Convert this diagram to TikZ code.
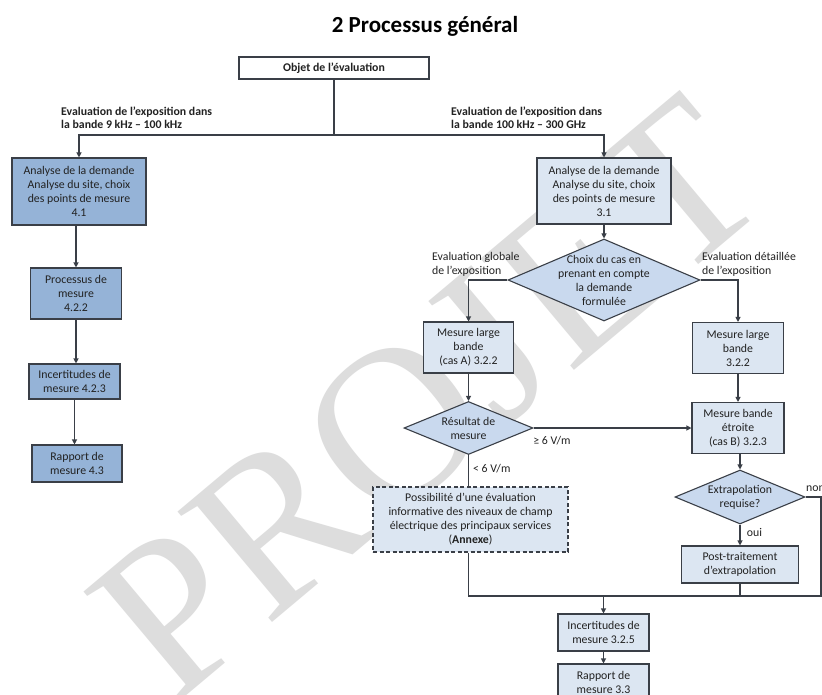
\documentclass[tikz,border=0pt]{standalone}
\usepackage{fontspec}
\setmainfont{Carlito}
\newfontfamily\wmfont{Liberation Serif}
\usetikzlibrary{arrows.meta,shapes.geometric}
\definecolor{bdark}{HTML}{95B3D7}
\definecolor{blight}{HTML}{DCE6F2}
\definecolor{bdia}{HTML}{C9D9EE}
\definecolor{edgec}{HTML}{3A3F47}
\definecolor{wm}{HTML}{DDDDDD}
\definecolor{txt}{HTML}{222222}
\begin{document}
\begin{tikzpicture}[x=1pt,y=-1pt,
  font=\fontsize{11.8}{14}\selectfont,
  box/.style={draw=edgec, line width=1.1pt, rectangle, inner sep=0pt, align=center, text=txt},
  boxA/.style={box, fill=bdark},
  boxB/.style={box, fill=blight},
  dia/.style={draw=edgec, line width=1.1pt, diamond, inner sep=0pt, fill=bdia},
  dtext/.style={inner sep=0pt, align=center, text=txt},
  lbl/.style={inner sep=0pt, text=txt, align=left},
  blbl/.style={lbl, font=\bfseries\fontsize{11.8}{12.5}\selectfont},
  wire/.style={draw=edgec, line width=1.1pt},
  arr/.style={wire, -{Triangle[length=5pt,width=5pt]}},
]
\useasboundingbox (0,0) rectangle (822,695);
\fill[white] (0,0) rectangle (822,695);
% watermark
\node[rotate=40, text=wm, font=\wmfont\fontsize{222}{222}\selectfont, inner sep=0pt] (wmark) at (428,398) {PROJET};
% title
\node[font=\bfseries\fontsize{23}{26}\selectfont, anchor=base, text=black, inner sep=0pt] (title) at (425,33) {2 Processus général};
% top
\node[box, fill=white, minimum width=190, minimum height=22, font=\bfseries\fontsize{11.8}{13}\selectfont] (obj) at (334,68) {Objet de l’évaluation};
\node[blbl, anchor=north west] (lblL) at (61,107) {Evaluation de l’exposition dans\\la bande 9 kHz – 100 kHz};
\node[blbl, anchor=north west] (lblR) at (451,107) {Evaluation de l’exposition dans\\la bande 100 kHz – 300 GHz};
% left column
\node[boxA, minimum width=134, minimum height=67] (a1) at (79,191.5) {Analyse de la demande\\Analyse du site, choix\\des points de mesure\\4.1};
\node[boxA, minimum width=91, minimum height=51] (a2) at (76,293.5) {Processus de\\mesure\\4.2.2};
\node[boxA, minimum width=91, minimum height=35] (a3) at (74.5,381.5) {Incertitudes de\\mesure 4.2.3};
\node[boxA, minimum width=90, minimum height=37] (a4) at (77,463.5) {Rapport de\\mesure 4.3};
% right column
\node[boxB, minimum width=134, minimum height=66] (b1) at (604,191) {Analyse de la demande\\Analyse du site, choix\\des points de mesure\\3.1};
\node[dia, minimum width=192, minimum height=82] (d1) at (604,280) {};
\node[dtext] (d1t) at (604,280) {Choix du cas en\\prenant en compte\\la demande\\formulée};
\node[lbl, anchor=north west] (lg) at (432,252) {Evaluation globale\\de l’exposition};
\node[lbl, anchor=north west] (ld) at (702,252) {Evaluation détaillée\\de l’exposition};
\node[boxB, minimum width=90, minimum height=51] (c1) at (468.5,347.5) {Mesure large\\bande\\(cas A) 3.2.2};
\node[boxB, minimum width=91, minimum height=51] (c2) at (738,348) {Mesure large\\bande\\3.2.2};
\node[dia, minimum width=129, minimum height=53] (d2) at (468.5,428) {};
\node[dtext] (d2t) at (468.5,428.5) {Résultat de\\mesure};
\node[boxB, minimum width=92, minimum height=51] (c3) at (738,428) {Mesure bande\\étroite\\(cas B) 3.2.3};
\node[lbl] (ge) at (552,441) {≥ 6 V/m};
\node[lbl, anchor=west] (lt) at (473,469) {< 6 V/m};
\node[dia, minimum width=130, minimum height=54] (d3) at (740,497) {};
\node[dtext] (d3t) at (740,497) {Extrapolation\\requise?};
\node[lbl, anchor=west] (non) at (806,489) {non};
\node[lbl] (oui) at (754.5,532) {oui};
\node[boxB, minimum width=117, minimum height=37] (c4) at (740,564.5) {Post-traitement\\d’extrapolation};
\node[boxB, dashed, dash pattern=on 4pt off 2.5pt, minimum width=195, minimum height=65] (e0) at (470.5,519.5) {Possibilité d’une évaluation\\informative des niveaux de champ\\électrique des principaux services\\(\textbf{Annexe})};
\node[boxB, minimum width=91, minimum height=37] (e1) at (603.5,632.5) {Incertitudes de\\mesure 3.2.5};
\node[boxB, minimum width=91, minimum height=37] (e2) at (603.5,682.5) {Rapport de\\mesure 3.3};
% connectors
\coordinate (jn) at (334,135);
\draw[wire] (obj.south) -- (jn);
\draw[arr] (jn) -| (a1.north);
\draw[arr] (jn) -| (b1.north);
\draw[arr] (a1.south -| a2.north) -- (a2.north);
\draw[arr] (a2.south) -- (a2.south |- a3.north);
\draw[arr] (a3.south) -- (a3.south |- a4.north);
\draw[arr] (b1.south) -- (d1.north);
\draw[arr] (d1.west) -| (c1.north);
\draw[arr] (d1.east) -| (c2.north);
\draw[arr] (c1.south) -- (d2.north);
\draw[arr] (d2.east) -- (d2.east -| c3.west);
\draw[arr] (c2.south) -- (c3.north);
\draw[arr] (c3.south -| d3.north) -- (d3.north);
\draw[wire] (d2.south) -- (d2.south |- e0.north);
\draw[arr] (d3.south) -- (c4.north);
\coordinate (mL) at (468.5,596);
\coordinate (mR) at (821,596);
\coordinate (mC) at (603.5,596);
\draw[wire] (d2.south |- e0.south) -- (mL) -- (mR) |- (d3.east);
\draw[wire] (c4.south) -- (c4.south |- mL);
\draw[arr] (mC) -- (e1.north);
\draw[arr] (e1.south) -- (e2.north);
\end{tikzpicture}
\end{document}
